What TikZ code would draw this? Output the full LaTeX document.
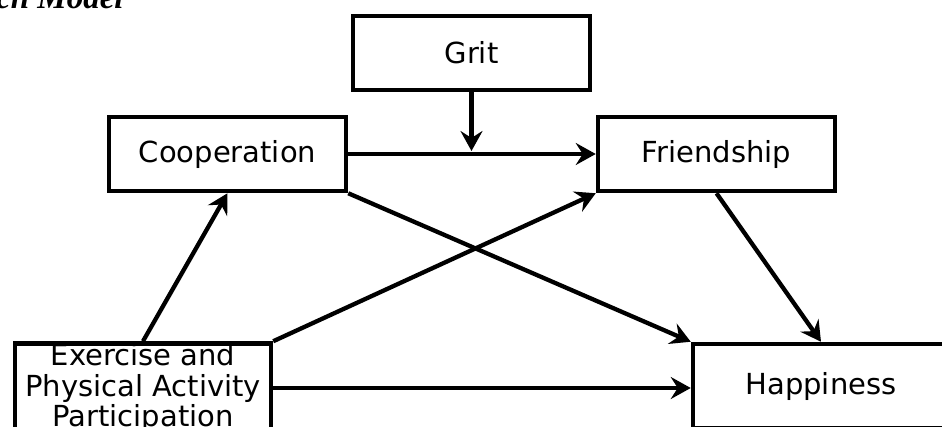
\documentclass[tikz,border=0pt]{standalone}
\usepackage{fontspec}
\setmainfont{DejaVu Sans}
\newfontfamily\titlefont{Liberation Serif}
\usetikzlibrary{arrows.meta}
\begin{document}
\begin{tikzpicture}[x=1pt,y=-1pt,
  box/.style={draw=black,line width=4.5pt,minimum width=237pt,minimum height=74pt,inner sep=0pt,align=center,font=\fontsize{29}{30.5}\selectfont},
  bigbox/.style={box,minimum width=256pt,minimum height=84pt},
  conn/.style={line width=4.3pt,-{Stealth[length=20pt,width=22pt,inset=7pt]}}]
\useasboundingbox (0,0) rectangle (942,426);
\clip (0,0) rectangle (942,426);
\fill[white] (0,0) rectangle (942,426);
\node[anchor=base west,inner sep=0pt,font=\titlefont\bfseries\itshape\fontsize{33}{35}\selectfont] (title) at (-4,8) {ch Model};
\node[box] (grit) at (471.5,53) {Grit};
\node[box] (co) at (227.5,154) {Cooperation};
\node[box] (fr) at (716.5,154) {Friendship};
\node[bigbox] (ex) at (143,388) {Exercise and\\Physical Activity\\Participation};
\node[bigbox] (ha) at (821,386) {Happiness};
\coordinate (m) at (grit.south |- co.east);
\draw[conn] (co.east) -- (fr.west);
\draw[conn,shorten >=3pt] (grit.south) -- (m);
\draw[conn] (ex.north) -- (co.south);
\draw[conn] (ex.north east) -- (fr.south west);
\draw[conn] (co.south east) -- (ha.north west);
\draw[conn] (fr.south) -- (ha.north);
\draw[conn] (ex.east) -- (ex.east -| ha.west);
\end{tikzpicture}
\end{document}
